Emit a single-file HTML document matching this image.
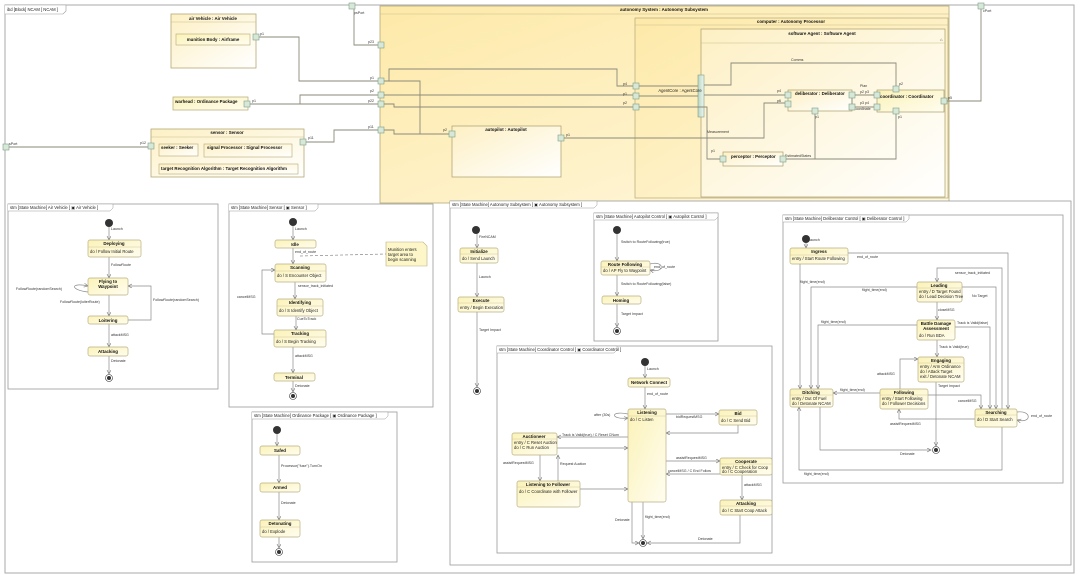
<!DOCTYPE html>
<html><head><meta charset="utf-8"><style>
html,body{margin:0;padding:0;background:#fff;}
svg{display:block;font-family:"Liberation Sans",sans-serif;}
.t{font-size:4.2px;fill:#222;}
.b{font-size:4.4px;fill:#111;font-weight:bold;}
.l{fill:none;stroke:#8a8a8a;stroke-width:0.7;}
.lc{fill:none;stroke:#8a8a7a;stroke-width:0.9;}
.fr{fill:#fff;stroke:#999;stroke-width:0.8;}
.st{fill:url(#sg);stroke:#b9b081;stroke-width:0.7;}
.pt{fill:#d7e8d9;stroke:#7f9f86;stroke-width:0.6;}
</style></head><body>
<svg width="1080" height="575" viewBox="0 0 1080 575" xmlns="http://www.w3.org/2000/svg">
<defs>
<linearGradient id="sg" x1="0" y1="0" x2="1" y2="1"><stop offset="0" stop-color="#fbf2b8"/><stop offset="1" stop-color="#fffdf0"/></linearGradient>
<linearGradient id="yg" x1="0" y1="0" x2="1" y2="1"><stop offset="0" stop-color="#fde9a8"/><stop offset="1" stop-color="#fff8e0"/></linearGradient>
<linearGradient id="wg" x1="0" y1="0" x2="1" y2="1"><stop offset="0" stop-color="#fdf0c4"/><stop offset="1" stop-color="#ffffff"/></linearGradient>
<linearGradient id="bar" x1="0" y1="0" x2="1" y2="0"><stop offset="0" stop-color="#b9d6c4"/><stop offset="1" stop-color="#eef6f0"/></linearGradient>
<marker id="a" markerWidth="5" markerHeight="5" refX="4" refY="2" orient="auto" markerUnits="userSpaceOnUse"><path d="M0,0 L4,2 L0,4" fill="none" stroke="#777" stroke-width="0.6"/></marker>
</defs>

<!-- outer ibd frame -->
<rect x="5" y="5" width="1069" height="568" fill="#fff" stroke="#aaa" stroke-width="1"/>
<path d="M5,5 H66 V11 L63,14 H5" fill="#fff" stroke="#999" stroke-width="0.6"/>
<text x="7" y="11" class="t">ibd [Block] NCAM [ NCAM ]</text>

<!-- air vehicle -->
<rect x="171" y="14" width="85" height="54" fill="url(#wg)" stroke="#b5a874" stroke-width="0.8"/>
<line x1="171" y1="22" x2="256" y2="22" stroke="#c9bd8a" stroke-width="0.5"/>
<text x="213" y="20" class="b" text-anchor="middle" font-size="4">air Vehicle : Air Vehicle</text>
<rect x="176" y="34" width="74" height="11" fill="url(#sg)" stroke="#b5a874" stroke-width="0.6"/>
<text x="213" y="41" class="b" text-anchor="middle">munition Body : Airframe</text>
<!-- warhead -->
<rect x="173" y="97" width="75" height="13" fill="url(#sg)" stroke="#b5a874" stroke-width="0.7"/>
<text x="175" y="103" class="b">warhead : Ordinance Package</text>
<!-- sensor -->
<rect x="151" y="129" width="153" height="48" fill="url(#wg)" stroke="#b5a874" stroke-width="0.8"/>
<line x1="151" y1="137" x2="304" y2="137" stroke="#c9bd8a" stroke-width="0.5"/>
<text x="227" y="134" class="b" text-anchor="middle">sensor : Sensor</text>
<rect x="159" y="144" width="39" height="12" fill="url(#wg)" stroke="#b5a874" stroke-width="0.6"/>
<text x="161" y="149" class="b">seeker : Seeker</text>
<rect x="204" y="144" width="88" height="13" fill="url(#wg)" stroke="#b5a874" stroke-width="0.6"/>
<text x="207" y="149" class="b">signal Processor : Signal Processor</text>
<rect x="159" y="164" width="139" height="10" fill="url(#wg)" stroke="#b5a874" stroke-width="0.6"/>
<text x="161" y="170" class="b">target Recognition Algorithm : Target Recognition Algorithm</text>

<!-- autonomy system -->
<rect x="380" y="6" width="569" height="197" fill="url(#yg)" stroke="#b5a874" stroke-width="0.8"/>
<line x1="380" y1="14" x2="949" y2="14" stroke="#c9bd8a" stroke-width="0.5"/>
<text x="664" y="11" class="b" text-anchor="middle">autonomy System : Autonomy Subsystem</text>
<rect x="452" y="126" width="109" height="51" fill="url(#wg)" stroke="#a99c6a" stroke-width="0.7"/>
<text x="506" y="131" class="b" text-anchor="middle">autopilot : Autopilot</text>
<rect x="635" y="18" width="313" height="180" fill="url(#yg)" stroke="#b5a874" stroke-width="0.7"/>
<line x1="635" y1="25" x2="948" y2="25" stroke="#c9bd8a" stroke-width="0.5"/>
<text x="791" y="23" class="b" text-anchor="middle">computer : Autonomy Processor</text>
<rect x="701" y="29" width="244" height="168" fill="url(#wg)" stroke="#a99c6a" stroke-width="0.7"/>
<line x1="701" y1="43" x2="945" y2="43" stroke="#c9bd8a" stroke-width="0.5"/>
<text x="822" y="35" class="b" text-anchor="middle">software Agent : Software Agent</text>
<text x="940" y="41" class="t">⌂</text>
<rect x="698" y="75" width="6" height="42" fill="url(#bar)" stroke="#7f9f86" stroke-width="0.6"/>
<text x="680" y="92" class="t" text-anchor="middle">AgentCore : AgentCore</text>
<rect x="788" y="90" width="64" height="21" fill="url(#wg)" stroke="#a99c6a" stroke-width="0.7"/>
<text x="795" y="95" class="b">deliberator : Deliberator</text>
<rect x="877" y="90" width="67" height="22" fill="url(#sg)" stroke="#a99c6a" stroke-width="0.7"/>
<text x="880" y="98" class="b">coordinator : Coordinator</text>
<rect x="723" y="152" width="60" height="14" fill="url(#wg)" stroke="#a99c6a" stroke-width="0.7"/>
<text x="731" y="158" class="b">perceptor : Perceptor</text>

<!-- ibd connectors -->
<g class="lc">
<polyline points="258,37 299,37 299,81 380,81"/>
<polyline points="249,104 300,104 300,95 380,95"/>
<line x1="249" y1="104" x2="380" y2="104"/>
<line x1="8" y1="147" x2="151" y2="147"/>
<polyline points="306,142 334,142 334,130 380,130"/>
<polyline points="354,8 354,45 380,45"/>
<polyline points="383,81 389,81 389,69 617,69 617,86 635,86"/>
<line x1="383" y1="95" x2="635" y2="95"/>
<polyline points="383,104 394,104 394,107 635,107"/>
<polyline points="383,130 394,130 394,134 452,134"/>
<polyline points="383,81 420,81 420,134"/>
<line x1="638" y1="86" x2="698" y2="86"/>
<line x1="638" y1="96" x2="698" y2="96"/>
<polyline points="638,107 707,107 707,159 723,159"/>
<polyline points="563,138 764,138 764,103 788,103"/>
<line x1="704" y1="95" x2="788" y2="95"/>
<polyline points="704,85 731,85 731,63 896,63 896,88"/>
<line x1="852" y1="95" x2="877" y2="95"/>
<line x1="852" y1="107" x2="877" y2="107"/>
<line x1="852" y1="95" x2="852" y2="107"/>
<polyline points="815,111 815,159 783,159"/>
<polyline points="896,112 896,159 783,159"/>
<polyline points="946,101 981,101 981,8"/>
</g>
<g font-size="3.6" fill="#333">
<text x="260" y="35">p1</text><text x="252" y="102">p1</text><text x="140" y="144">p12</text>
<text x="308" y="139">p11</text><text x="9" y="145">sPort</text><text x="354" y="14">psPort</text>
<text x="368" y="43">p23</text><text x="370" y="79">p1</text><text x="370" y="92">p2</text><text x="368" y="102">p22</text><text x="368" y="128">p11</text>
<text x="443" y="131">p2</text><text x="566" y="136">p1</text><text x="623" y="85">p4</text><text x="623" y="95">p1</text><text x="623" y="104">p2</text>
<text x="777" y="92">p4</text><text x="777" y="102">p6</text><text x="860" y="87">Plan</text><text x="860" y="93">p2 p3</text><text x="860" y="104">p3 p4</text>
<text x="853" y="110">Coordinate</text><text x="815" y="118">p1</text><text x="898" y="118">p1</text><text x="899" y="85">p2</text>
<text x="948" y="99">p5</text><text x="983" y="12">cPort</text><text x="791" y="61">Comms</text>
<text x="707" y="133">Measurement</text><text x="711" y="152">p1</text><text x="785" y="157">EstimatedStates</text>
</g>
<g class="pt">
<rect x="349" y="3" width="6" height="6"/><rect x="978" y="3" width="6" height="6"/><rect x="3" y="144" width="6" height="6"/>
<rect x="253" y="34" width="6" height="6"/><rect x="244" y="101" width="6" height="6"/><rect x="148" y="143" width="6" height="6"/><rect x="300" y="139" width="6" height="6"/>
<rect x="378" y="42" width="6" height="6"/><rect x="378" y="78" width="6" height="6"/><rect x="378" y="92" width="6" height="6"/><rect x="378" y="101" width="6" height="6"/><rect x="378" y="127" width="6" height="6"/>
<rect x="449" y="131" width="6" height="6"/><rect x="558" y="135" width="6" height="6"/>
<rect x="633" y="83" width="6" height="6"/><rect x="633" y="93" width="6" height="6"/><rect x="633" y="104" width="6" height="6"/>
<rect x="785" y="92" width="6" height="6"/><rect x="785" y="101" width="6" height="6"/><rect x="849" y="92" width="6" height="6"/><rect x="849" y="104" width="6" height="6"/><rect x="812" y="108" width="6" height="6"/>
<rect x="874" y="92" width="6" height="6"/><rect x="874" y="104" width="6" height="6"/><rect x="893" y="86" width="6" height="6"/><rect x="893" y="108" width="6" height="6"/><rect x="941" y="98" width="6" height="6"/>
<rect x="720" y="156" width="6" height="6"/><rect x="780" y="156" width="6" height="6"/>
</g>

<!-- ===== STM frames ===== -->
<g>
<rect x="8" y="204" width="210" height="185" class="fr"/>
<path d="M8,204 H113 V208 L110,211 H8" fill="#fff" stroke="#999" stroke-width="0.5"/>
<text x="10" y="209" class="t">stm [State Machine] Air Vehicle [ ▣ Air Vehicle ]</text>
<rect x="229" y="204" width="204" height="203" class="fr"/>
<path d="M229,204 H318 V208 L315,211 H229" fill="#fff" stroke="#999" stroke-width="0.5"/>
<text x="231" y="209" class="t">stm [State Machine] Sensor [ ▣ Sensor ]</text>
<rect x="252" y="412" width="145" height="150" class="fr"/>
<path d="M252,412 H388 V416 L385,419 H252" fill="#fff" stroke="#999" stroke-width="0.5"/>
<text x="254" y="417" class="t">stm [State Machine] Ordinance Package [ ▣ Ordinance Package ]</text>
<rect x="450" y="201" width="621" height="364" class="fr"/>
<path d="M450,201 H597 V205 L594,208 H450" fill="#fff" stroke="#999" stroke-width="0.5"/>
<text x="452" y="206" class="t">stm [State Machine] Autonomy Subsystem [ ▣ Autonomy Subsystem ]</text>
<rect x="594" y="213" width="124" height="128" class="fr"/>
<path d="M594,213 H718 V217 L715,220 H594" fill="#fff" stroke="#999" stroke-width="0.5"/>
<text x="596" y="218" class="t" font-size="3.6">stm [State Machine] Autopilot Control [ ▣ Autopilot Control ]</text>
<rect x="497" y="346" width="275" height="207" class="fr"/>
<path d="M497,346 H617 V350 L614,353 H497" fill="#fff" stroke="#999" stroke-width="0.5"/>
<text x="499" y="351" class="t" font-size="3.6">stm [State Machine] Coordinator Control [ ▣ Coordinator Control ]</text>
<rect x="783" y="215" width="280" height="268" class="fr"/>
<path d="M783,215 H909 V219 L906,222 H783" fill="#fff" stroke="#999" stroke-width="0.5"/>
<text x="785" y="220" class="t" font-size="3.6">stm [State Machine] Deliberator Control [ ▣ Deliberator Control ]</text>
</g>

<!-- transitions -->
<g class="l">
<!-- air vehicle -->
<line x1="109" y1="227" x2="109" y2="240" marker-end="url(#a)"/>
<line x1="109" y1="257" x2="109" y2="278" marker-end="url(#a)"/>
<line x1="109" y1="295" x2="109" y2="316" marker-end="url(#a)"/>
<line x1="109" y1="324" x2="109" y2="347" marker-end="url(#a)"/>
<line x1="109" y1="356" x2="109" y2="374" marker-end="url(#a)"/>
<polyline points="128,320 151,320 151,286 128,286" marker-end="url(#a)"/>
<path d="M88,292 C70,290 70,282 88,286" marker-end="url(#a)"/>
<!-- sensor -->
<line x1="293" y1="226" x2="293" y2="240" marker-end="url(#a)"/>
<line x1="293" y1="248" x2="293" y2="264" marker-end="url(#a)"/>
<line x1="295" y1="282" x2="295" y2="299" marker-end="url(#a)"/>
<line x1="296" y1="316" x2="296" y2="330" marker-end="url(#a)"/>
<line x1="293" y1="347" x2="293" y2="373" marker-end="url(#a)"/>
<line x1="293" y1="381" x2="293" y2="392" marker-end="url(#a)"/>
<polyline points="274,334 262,334 262,270 275,270" marker-end="url(#a)"/>
<line x1="300" y1="256" x2="386" y2="254" stroke-dasharray="3,2"/>
<!-- ordnance -->
<line x1="277" y1="434" x2="277" y2="446" marker-end="url(#a)"/>
<line x1="279" y1="455" x2="279" y2="483" marker-end="url(#a)"/>
<line x1="279" y1="492" x2="279" y2="520" marker-end="url(#a)"/>
<line x1="279" y1="537" x2="279" y2="548" marker-end="url(#a)"/>
<!-- autonomy -->
<line x1="477" y1="234" x2="477" y2="248" marker-end="url(#a)"/>
<line x1="477" y1="263" x2="477" y2="297" marker-end="url(#a)"/>
<line x1="477" y1="312" x2="477" y2="387" marker-end="url(#a)"/>
<!-- autopilot -->
<line x1="617" y1="234" x2="617" y2="261" marker-end="url(#a)"/>
<line x1="617" y1="275" x2="617" y2="296" marker-end="url(#a)"/>
<line x1="617" y1="304" x2="617" y2="327" marker-end="url(#a)"/>
<path d="M650,264 C665,260 665,274 650,270" marker-end="url(#a)"/>
<!-- coordinator -->
<line x1="645" y1="366" x2="645" y2="378" marker-end="url(#a)"/>
<line x1="645" y1="387" x2="645" y2="409" marker-end="url(#a)"/>
<path d="M628,414 C610,410 610,420 628,418" marker-end="url(#a)"/>
<line x1="666" y1="414" x2="719" y2="414" marker-end="url(#a)"/>
<polyline points="738,425 738,433 666,433" marker-end="url(#a)"/>
<line x1="628" y1="437" x2="557" y2="437" marker-end="url(#a)"/>
<line x1="557" y1="448" x2="628" y2="448" marker-end="url(#a)"/>
<line x1="540" y1="455" x2="540" y2="481" marker-end="url(#a)"/>
<line x1="558" y1="481" x2="558" y2="455" marker-end="url(#a)"/>
<line x1="580" y1="489" x2="628" y2="489" marker-end="url(#a)"/>
<line x1="666" y1="461" x2="720" y2="461" marker-end="url(#a)"/>
<line x1="720" y1="474" x2="666" y2="474" marker-end="url(#a)"/>
<line x1="742" y1="475" x2="742" y2="500" marker-end="url(#a)"/>
<line x1="643" y1="502" x2="643" y2="539" marker-end="url(#a)"/>
<polyline points="632,502 632,543 639,543" marker-end="url(#a)"/>
<polyline points="740,515 740,543 647,543" marker-end="url(#a)"/>
<!-- deliberator -->
<line x1="806" y1="243" x2="806" y2="248" marker-end="url(#a)"/>
<line x1="800" y1="264" x2="800" y2="389" marker-end="url(#a)"/>
<polyline points="848,253 1008,253 1008,409" marker-end="url(#a)"/>
<polyline points="1002,409 1002,268 937,268 937,282" marker-end="url(#a)"/>
<polyline points="917,287 811,287 811,389" marker-end="url(#a)"/>
<polyline points="962,287 996,287 996,409" marker-end="url(#a)"/>
<line x1="937" y1="302" x2="937" y2="320" marker-end="url(#a)"/>
<polyline points="955,327 990,327 990,409" marker-end="url(#a)"/>
<polyline points="917,325 818,325 818,389" marker-end="url(#a)"/>
<line x1="937" y1="340" x2="937" y2="357" marker-end="url(#a)"/>
<polyline points="900,389 900,359 918,359" marker-end="url(#a)"/>
<line x1="880" y1="393" x2="833" y2="393" marker-end="url(#a)"/>
<line x1="936" y1="382" x2="936" y2="446" marker-end="url(#a)"/>
<polyline points="928,395 981,395 981,409" marker-end="url(#a)"/>
<polyline points="975,419 899,419 899,409" marker-end="url(#a)"/>
<polyline points="820,407 820,450 931,450" marker-end="url(#a)"/>
<polyline points="1002,427 1002,470 799,470 799,407" marker-end="url(#a)"/>
<path d="M1017,412 C1032,410 1032,424 1017,420" marker-end="url(#a)"/>
</g>

<!-- initial / final nodes -->
<g fill="#333">
<circle cx="109" cy="223" r="4"/><circle cx="293" cy="222" r="4"/><circle cx="277" cy="430" r="4"/>
<circle cx="476" cy="230" r="4"/><circle cx="617" cy="230" r="4"/><circle cx="645" cy="362" r="4"/><circle cx="806" cy="239" r="4"/>
</g>
<g>
<circle cx="109" cy="378" r="3.5" fill="#fff" stroke="#333" stroke-width="0.6"/><circle cx="109" cy="378" r="2" fill="#333"/>
<circle cx="293" cy="396" r="3.5" fill="#fff" stroke="#333" stroke-width="0.6"/><circle cx="293" cy="396" r="2" fill="#333"/>
<circle cx="279" cy="552" r="3.5" fill="#fff" stroke="#333" stroke-width="0.6"/><circle cx="279" cy="552" r="2" fill="#333"/>
<circle cx="477" cy="391" r="3.5" fill="#fff" stroke="#333" stroke-width="0.6"/><circle cx="477" cy="391" r="2" fill="#333"/>
<circle cx="617" cy="331" r="3.5" fill="#fff" stroke="#333" stroke-width="0.6"/><circle cx="617" cy="331" r="2" fill="#333"/>
<circle cx="643" cy="543" r="3.5" fill="#fff" stroke="#333" stroke-width="0.6"/><circle cx="643" cy="543" r="2" fill="#333"/>
<circle cx="936" cy="450" r="3.5" fill="#fff" stroke="#333" stroke-width="0.6"/><circle cx="936" cy="450" r="2" fill="#333"/>
</g>

<!-- states -->
<g>
<!-- air vehicle -->
<rect class="st" x="88" y="240" width="53" height="17" rx="2"/><line x1="88" y1="247" x2="141" y2="247" stroke="#c9bd8a" stroke-width="0.4"/>
<text x="114" y="245" class="b" text-anchor="middle">Deploying</text><text x="90" y="253" class="t">do / Follow Initial Route</text>
<rect class="st" x="88" y="278" width="40" height="17" rx="2"/>
<text x="108" y="283" class="b" text-anchor="middle">Flying to</text><text x="108" y="288" class="b" text-anchor="middle">Waypoint</text>
<rect class="st" x="88" y="316" width="40" height="8" rx="2"/><text x="108" y="322" class="b" text-anchor="middle">Loitering</text>
<rect class="st" x="88" y="347" width="40" height="9" rx="2"/><text x="108" y="353" class="b" text-anchor="middle">Attacking</text>
<!-- sensor -->
<rect class="st" x="275" y="240" width="41" height="8" rx="2"/><text x="295" y="246" class="b" text-anchor="middle">Idle</text>
<rect class="st" x="275" y="264" width="51" height="18" rx="2"/><line x1="275" y1="271" x2="326" y2="271" stroke="#c9bd8a" stroke-width="0.4"/>
<text x="300" y="269" class="b" text-anchor="middle">Scanning</text><text x="277" y="277" class="t">do / S Encounter Object</text>
<rect class="st" x="277" y="299" width="46" height="17" rx="2"/><line x1="277" y1="306" x2="323" y2="306" stroke="#c9bd8a" stroke-width="0.4"/>
<text x="300" y="304" class="b" text-anchor="middle">Identifying</text><text x="279" y="312" class="t">do / S Identify Object</text>
<rect class="st" x="274" y="330" width="52" height="17" rx="2"/><line x1="274" y1="337" x2="326" y2="337" stroke="#c9bd8a" stroke-width="0.4"/>
<text x="300" y="335" class="b" text-anchor="middle">Tracking</text><text x="276" y="343" class="t">do / S Begin Tracking</text>
<rect class="st" x="274" y="373" width="41" height="8" rx="2"/><text x="294" y="379" class="b" text-anchor="middle">Terminal</text>
<path d="M386,242 H423 L427,246 V266 H386 Z" fill="#fdf6c8" stroke="#b9b081" stroke-width="0.6"/>
<text x="388" y="251" class="t">Munition enters</text><text x="388" y="256" class="t">target area to</text><text x="388" y="261" class="t">begin scanning</text>
<!-- ordnance -->
<rect class="st" x="260" y="446" width="40" height="9" rx="2"/><text x="280" y="452" class="b" text-anchor="middle">Safed</text>
<rect class="st" x="260" y="483" width="40" height="9" rx="2"/><text x="280" y="489" class="b" text-anchor="middle">Armed</text>
<rect class="st" x="260" y="520" width="40" height="17" rx="2"/><line x1="260" y1="527" x2="300" y2="527" stroke="#c9bd8a" stroke-width="0.4"/>
<text x="280" y="525" class="b" text-anchor="middle">Detonating</text><text x="262" y="533" class="t">do / Explode</text>
<!-- autonomy -->
<rect class="st" x="460" y="248" width="38" height="15" rx="2"/><line x1="460" y1="254" x2="498" y2="254" stroke="#c9bd8a" stroke-width="0.4"/>
<text x="479" y="253" class="b" text-anchor="middle">Initialize</text><text x="462" y="260" class="t">do / Send Launch</text>
<rect class="st" x="458" y="297" width="46" height="15" rx="2"/><line x1="458" y1="303" x2="504" y2="303" stroke="#c9bd8a" stroke-width="0.4"/>
<text x="481" y="302" class="b" text-anchor="middle">Execute</text><text x="460" y="309" class="t">entry / Begin Execution</text>
<!-- autopilot -->
<rect class="st" x="601" y="261" width="49" height="14" rx="2"/><line x1="601" y1="267" x2="650" y2="267" stroke="#c9bd8a" stroke-width="0.4"/>
<text x="625" y="266" class="b" text-anchor="middle">Route Following</text><text x="603" y="272" class="t">do / AP Fly to Waypoint</text>
<rect class="st" x="602" y="296" width="39" height="8" rx="2"/><text x="621" y="302" class="b" text-anchor="middle">Homing</text>
<!-- coordinator -->
<rect class="st" x="628" y="378" width="42" height="9" rx="2"/><text x="649" y="384" class="b" text-anchor="middle">Network Connect</text>
<rect class="st" x="628" y="409" width="38" height="93" rx="2"/><line x1="628" y1="416" x2="666" y2="416" stroke="#c9bd8a" stroke-width="0.4"/>
<text x="647" y="414" class="b" text-anchor="middle">Listening</text><text x="630" y="421" class="t">do / C Listen</text>
<rect class="st" x="719" y="410" width="38" height="15" rx="2"/><line x1="719" y1="416" x2="757" y2="416" stroke="#c9bd8a" stroke-width="0.4"/>
<text x="738" y="415" class="b" text-anchor="middle">Bid</text><text x="721" y="422" class="t">do / C Send Bid</text>
<rect class="st" x="512" y="433" width="45" height="22" rx="2"/><line x1="512" y1="439" x2="557" y2="439" stroke="#c9bd8a" stroke-width="0.4"/>
<text x="534" y="438" class="b" text-anchor="middle">Auctioneer</text><text x="514" y="444" class="t">entry / C Reset Auction</text><text x="514" y="449" class="t">do / C Run Auction</text>
<rect class="st" x="517" y="481" width="63" height="26" rx="2"/><line x1="517" y1="487" x2="580" y2="487" stroke="#c9bd8a" stroke-width="0.4"/>
<text x="548" y="486" class="b" text-anchor="middle">Listening to Follower</text><text x="519" y="493" class="t">do / C Coordinate with Follower</text>
<rect class="st" x="720" y="458" width="52" height="17" rx="2"/><line x1="720" y1="464" x2="772" y2="464" stroke="#c9bd8a" stroke-width="0.4"/>
<text x="746" y="463" class="b" text-anchor="middle">Cooperate</text><text x="722" y="469" class="t">entry / C Check for Coop</text><text x="722" y="473" class="t">do / C Cooperation</text>
<rect class="st" x="720" y="500" width="52" height="15" rx="2"/><line x1="720" y1="506" x2="772" y2="506" stroke="#c9bd8a" stroke-width="0.4"/>
<text x="746" y="505" class="b" text-anchor="middle">Attacking</text><text x="722" y="512" class="t">do / C Start Coop Attack</text>
<!-- deliberator -->
<rect class="st" x="790" y="248" width="58" height="16" rx="2"/><line x1="790" y1="255" x2="848" y2="255" stroke="#c9bd8a" stroke-width="0.4"/>
<text x="819" y="253" class="b" text-anchor="middle">Ingress</text><text x="792" y="260" class="t">entry / Start Route Following</text>
<rect class="st" x="917" y="282" width="45" height="20" rx="2"/><line x1="917" y1="288" x2="962" y2="288" stroke="#c9bd8a" stroke-width="0.4"/>
<text x="939" y="287" class="b" text-anchor="middle">Leading</text><text x="919" y="293" class="t">entry / D Target Found</text><text x="919" y="298" class="t">do / Lead Decision Tree</text>
<rect class="st" x="917" y="320" width="38" height="20" rx="2"/>
<text x="936" y="325" class="b" text-anchor="middle">Battle Damage</text><text x="936" y="330" class="b" text-anchor="middle">Assessment</text><text x="919" y="337" class="t">do / Run BDA</text>
<rect class="st" x="918" y="357" width="46" height="25" rx="2"/><line x1="918" y1="363" x2="964" y2="363" stroke="#c9bd8a" stroke-width="0.4"/>
<text x="941" y="362" class="b" text-anchor="middle">Engaging</text><text x="920" y="368" class="t">entry / Arm Ordinance</text><text x="920" y="373" class="t">do / Attack Target</text><text x="920" y="378" class="t">exit / Detonate NCAM</text>
<rect class="st" x="790" y="389" width="43" height="18" rx="2"/><line x1="790" y1="395" x2="833" y2="395" stroke="#c9bd8a" stroke-width="0.4"/>
<text x="811" y="394" class="b" text-anchor="middle">Ditching</text><text x="792" y="400" class="t">entry / Out Of Fuel</text><text x="792" y="405" class="t">do / Detonate NCAM</text>
<rect class="st" x="880" y="389" width="48" height="20" rx="2"/><line x1="880" y1="395" x2="928" y2="395" stroke="#c9bd8a" stroke-width="0.4"/>
<text x="904" y="394" class="b" text-anchor="middle">Following</text><text x="882" y="400" class="t">entry / Start Following</text><text x="882" y="405" class="t">do / Follower Decisions</text>
<rect class="st" x="975" y="409" width="42" height="18" rx="2"/><line x1="975" y1="415" x2="1017" y2="415" stroke="#c9bd8a" stroke-width="0.4"/>
<text x="996" y="414" class="b" text-anchor="middle">Searching</text><text x="977" y="421" class="t">do / D Start Search</text>
</g>

<!-- transition labels -->
<g font-size="3.6" fill="#333">
<text x="111" y="230">Launch</text><text x="111" y="266">FollowRoute</text><text x="60" y="303">FollowRoute(loiterRoute)</text>
<text x="16" y="290">FollowRoute(randomSearch)</text><text x="153" y="301">FollowRoute(randomSearch)</text>
<text x="111" y="336">attackMSG</text><text x="111" y="362">Detonate</text>
<text x="295" y="230">Launch</text><text x="295" y="253">end_of_route</text><text x="298" y="287">sensor_track_initiated</text>
<text x="297" y="320">CueToTrack</text><text x="237" y="298">cancelMSG</text><text x="295" y="357">attackMSG</text><text x="295" y="387">Detonate</text>
<text x="281" y="467">Processor("fuse").TurnOn</text><text x="281" y="504">Detonate</text>
<text x="479" y="238">FireNCAM</text><text x="479" y="278">Launch</text><text x="479" y="331">Target Impact</text>
<text x="621" y="243">Switch to RouteFollowing(true)</text><text x="654" y="268">end_of_route</text><text x="621" y="285">Switch to RouteFollowing(false)</text><text x="621" y="315">Target Impact</text>
<text x="647" y="370">Launch</text><text x="647" y="395">end_of_route</text><text x="594" y="416">after (30s)</text><text x="676" y="418">bidRequestMSG</text>
<text x="562" y="436">Track is Valid(true) / C Reset CNum</text><text x="503" y="464">assistRequestMSG</text><text x="560" y="465">Request Auction</text>
<text x="676" y="459">assistRequestMSG</text><text x="668" y="472">cancelMSG / C End Follow</text><text x="744" y="486">attackMSG</text>
<text x="615" y="521">Detonate</text><text x="645" y="518">flight_time(end)</text><text x="698" y="540">Detonate</text>
<text x="808" y="241">Launch</text><text x="857" y="258">end_of_route</text><text x="955" y="274">sensor_track_initiated</text>
<text x="800" y="283">flight_time(end)</text><text x="862" y="291">flight_time(end)</text><text x="972" y="297">No Target</text>
<text x="938" y="311">closeMSG</text><text x="821" y="323">flight_time(end)</text><text x="957" y="324">Track is Valid(false)</text>
<text x="939" y="348">Track is Valid(true)</text><text x="877" y="375">attackMSG</text><text x="840" y="391">flight_time(end)</text>
<text x="938" y="387">Target Impact</text><text x="958" y="402">cancelMSG</text><text x="890" y="425">assistRequestMSG</text>
<text x="900" y="455">Detonate</text><text x="804" y="475">flight_time(end)</text><text x="1031" y="417">end_of_route</text>
</g>
</svg>
</body></html>
